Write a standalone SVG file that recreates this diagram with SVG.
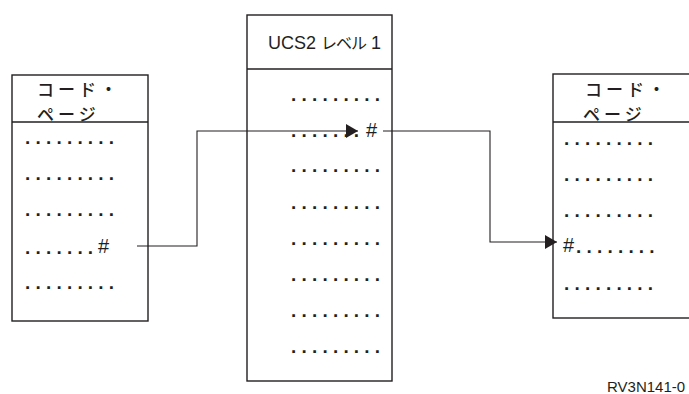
<svg xmlns="http://www.w3.org/2000/svg" width="689" height="394" viewBox="0 0 689 394">
<defs>
<style>
.box{fill:#fff;stroke:#231f20;stroke-width:1.4}
.div{stroke:#231f20;stroke-width:1.4}
.dots{font-family:"Liberation Sans",Arial,sans-serif;font-size:19px;font-weight:bold;letter-spacing:5.2px;fill:#231f20}
.hash{font-family:"Liberation Sans",Arial,sans-serif;font-size:20px;fill:#231f20}
.jp{font-family:"Noto Sans CJK JP","Liberation Sans",sans-serif;font-size:17px;font-weight:500;letter-spacing:4px;fill:#231f20}
.hdr{font-family:"Liberation Sans","Noto Sans CJK JP",sans-serif;font-size:18px;fill:#231f20}
.hdrjp{font-family:"Noto Sans CJK JP",sans-serif;font-size:16px;letter-spacing:-1px}
.conn{fill:none;stroke:#231f20;stroke-width:1.1}
.fig{font-family:"Liberation Sans",Arial,sans-serif;font-size:15px;fill:#231f20}
</style>
<marker id="arr" markerUnits="userSpaceOnUse" markerWidth="13" markerHeight="14" refX="12" refY="7" orient="auto">
<path d="M0,0 L12,7 L0,14 Z" fill="#231f20"/>
</marker>
</defs>
<rect width="689" height="394" fill="#fff"/>

<g id="left-codepage">
<rect class="box" x="12" y="75" width="136" height="246"/>
<line class="div" x1="12" y1="122" x2="148" y2="122"/>
<text class="jp" x="37" y="96">コード・<tspan x="37" dy="25">ページ</tspan></text>
<text class="dots" x="25" y="144">.........</text>
<text class="dots" x="25" y="180">.........</text>
<text class="dots" x="25" y="216">.........</text>
<text class="dots" x="25" y="254">.......</text>
<text class="hash" x="98" y="253">#</text>
<text class="dots" x="25" y="289">.........</text>
</g>

<g id="ucs2">
<rect class="box" x="247" y="15" width="145" height="366"/>
<line class="div" x1="247" y1="69" x2="392" y2="69"/>
<text class="hdr" x="268" y="49">UCS2 <tspan class="hdrjp">レベル</tspan> 1</text>
<text class="dots" x="291" y="101">.........</text>
<text class="dots" x="291" y="137">.......</text>
<text class="hash" x="366" y="137">#</text>
<text class="dots" x="291" y="172">.........</text>
<text class="dots" x="291" y="209">.........</text>
<text class="dots" x="291" y="245">.........</text>
<text class="dots" x="291" y="281">.........</text>
<text class="dots" x="291" y="317">.........</text>
<text class="dots" x="291" y="353">.........</text>
</g>

<g id="right-codepage">
<rect class="box" x="553" y="74" width="140" height="244"/>
<line class="div" x1="553" y1="122" x2="693" y2="122"/>
<text class="jp" x="585" y="96">コード・<tspan x="583" dy="25">ページ</tspan></text>
<text class="dots" x="564" y="145">.........</text>
<text class="dots" x="564" y="181">.........</text>
<text class="dots" x="564" y="217">.........</text>
<text class="hash" x="563" y="252">#</text>
<text class="dots" x="576" y="253">........</text>
<text class="dots" x="564" y="290">.........</text>
</g>

<g id="connectors">
<path class="conn" d="M137,246 H197 V131 H358" marker-end="url(#arr)"/>
<path class="conn" d="M383,131 H490 V242 H557" marker-end="url(#arr)"/>
</g>

<text class="fig" x="607" y="392">RV3N141-0</text>
</svg>
